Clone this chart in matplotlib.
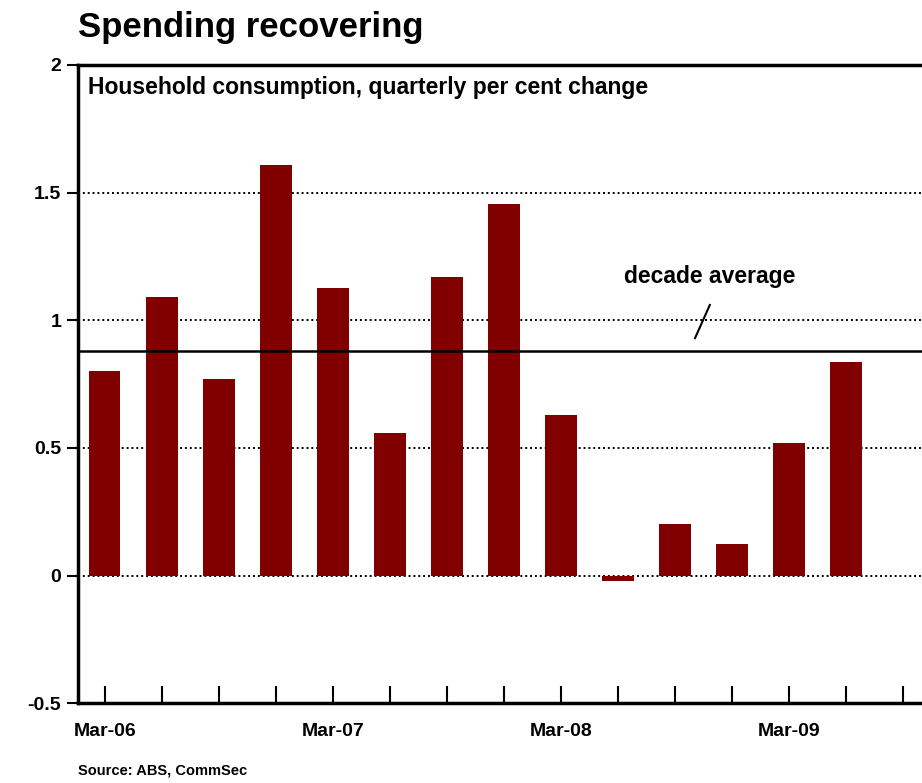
import matplotlib.pyplot as plt

# Datos: consumo de los hogares, variación trimestral (%)
quarters = ["Mar-06", "Jun-06", "Sep-06", "Dec-06", "Mar-07", "Jun-07", "Sep-07", "Dec-07",
            "Mar-08", "Jun-08", "Sep-08", "Dec-08", "Mar-09", "Jun-09"]
values = [0.80, 1.09, 0.77, 1.61, 1.125, 0.56, 1.17, 1.455, 0.63, -0.02, 0.20, 0.125, 0.52, 0.835]
decade_average = 0.88
tick_labels = ["Mar-06", "", "", "", "Mar-07", "", "", "", "Mar-08", "", "", "", "Mar-09", "", ""]

plt.rcParams['font.family'] = ['Liberation Sans', 'DejaVu Sans']

fig = plt.figure(figsize=(9.22, 7.83), dpi=100)
ax = fig.add_axes([0.0846, 0.102, 0.9154, 0.815])

x = list(range(len(values)))
ax.bar(x, values, width=0.55, color="#800000", zorder=3)

# Líneas de referencia
for yv in [0, 0.5, 1, 1.5]:
    ax.axhline(yv, color="black", linestyle=(0, (1, 1.5)), linewidth=1.4, zorder=1)
ax.axhline(decade_average, color="black", linewidth=1.8, zorder=4)

ax.set_xlim(-0.47, 14.33)
ax.set_ylim(-0.5, 2)
ax.set_yticks([-0.5, 0, 0.5, 1, 1.5, 2])
ax.set_yticklabels(["-0.5", "0", "0.5", "1", "1.5", "2"], fontsize=14, fontweight="bold")
ax.set_xticks(range(len(tick_labels)))
ax.set_xticklabels(tick_labels, fontsize=14, fontweight="bold")
ax.tick_params(axis="x", direction="in", length=12, width=1.5, pad=14)
ax.tick_params(axis="y", direction="out", length=8, width=1.5, pad=4)

for side in ["left", "top", "bottom"]:
    ax.spines[side].set_linewidth(2.5)
ax.spines["right"].set_visible(False)

# Anotación del promedio
ax.text(10.6, 1.17, "decade average", fontsize=16.5, fontweight="bold", ha="center", va="center")
ax.plot([10.35, 10.61], [0.93, 1.06], color="black", linewidth=1.5, zorder=5)

ax.text(0.012, 0.965, "Household consumption, quarterly per cent change", transform=ax.transAxes,
        fontsize=16.5, fontweight="bold", va="center", ha="left")

fig.text(0.0846, 0.965, "Spending recovering", fontsize=25, fontweight="bold", va="center", ha="left")
fig.text(0.085, 0.016, "Source: ABS, CommSec", fontsize=10.5, fontweight="bold", va="center", ha="left")

fig.savefig("out.png", dpi=100)
